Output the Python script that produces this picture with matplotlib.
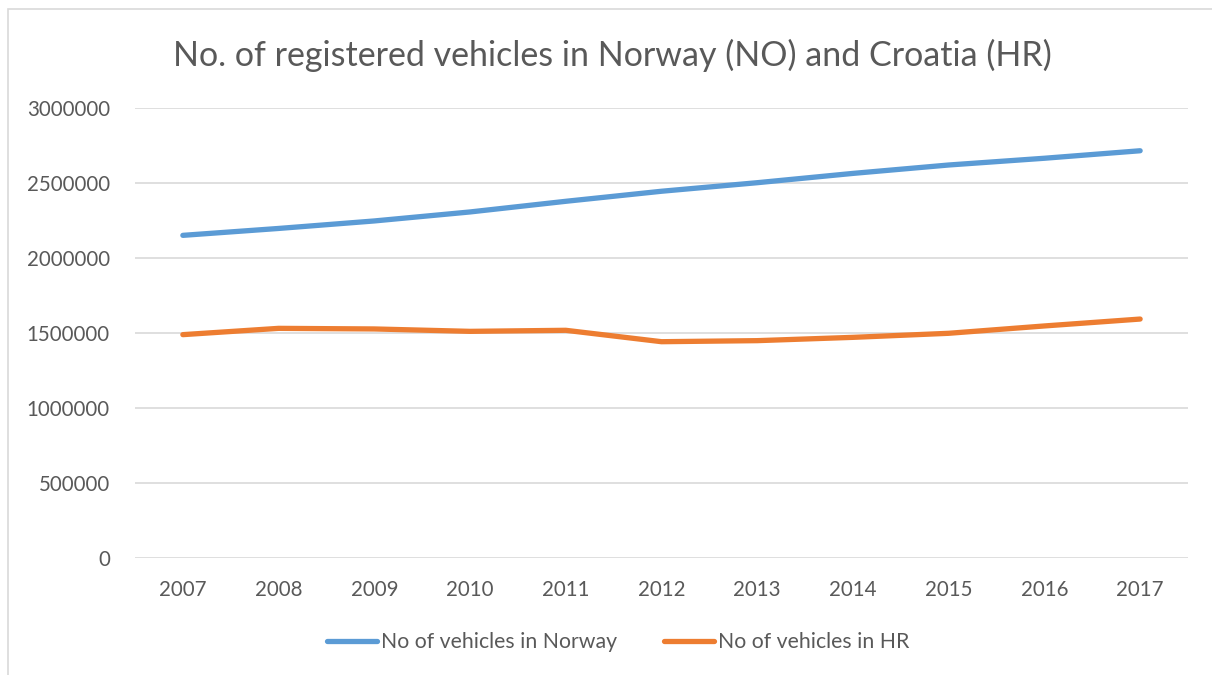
import matplotlib.pyplot as plt
from matplotlib.patches import Rectangle

# Registered vehicles
years = ['2007', '2008', '2009', '2010', '2011', '2012',
         '2013', '2014', '2015', '2016', '2017']
norway = [2151000, 2197000, 2247000, 2307000, 2378000, 2445000,
          2502000, 2564000, 2620000, 2665000, 2715000]
croatia = [1489000, 1531000, 1527000, 1511000, 1518000, 1442000,
           1449000, 1471000, 1498000, 1547000, 1593000]
yticks = [0, 500000, 1000000, 1500000, 2000000, 2500000, 3000000]

plt.rcParams['font.family'] = ['Lato', 'DejaVu Sans']
txt = '#595959'

fig = plt.figure(figsize=(12.12, 6.75), dpi=100)
ax = fig.add_axes([135/1212, 117/675, 1053/1212, 450/675])

x = range(len(years))
ax.plot(x, norway, color='#5B9BD5', lw=3.8, solid_capstyle='round',
        solid_joinstyle='round', label='No of vehicles in Norway')
ax.plot(x, croatia, color='#ED7D31', lw=3.8, solid_capstyle='round',
        solid_joinstyle='round', label='No of vehicles in HR')

ax.set_xlim(-0.5, len(years) - 0.5)
ax.set_ylim(0, 3000000)
ax.set_xticks(list(x))
ax.set_xticklabels(years)
ax.set_yticks(yticks)
ax.set_yticklabels([str(v) for v in yticks])
ax.tick_params(length=0, labelsize=14.8, colors=txt)
ax.tick_params(axis='x', pad=16)
ax.tick_params(axis='y', pad=18)
ax.grid(axis='y', color='#D9D9D9', lw=1.2)
ax.set_axisbelow(True)
for s in ax.spines.values():
    s.set_visible(False)

fig.text(0.505, 1 - 55/675, 'No. of registered vehicles in Norway (NO) and Croatia (HR)',
         ha='center', va='center', fontsize=24.5, color=txt)

fig.legend(loc='center', bbox_to_anchor=(0.510, 1 - 642/675), ncol=2, frameon=False,
           fontsize=15.3, labelcolor=txt, handlelength=2.35, handletextpad=0.2,
           columnspacing=2.2)

# outer chart frame
fig.patches.append(Rectangle((8/1212, -0.05), 1.1, 1 - 9/675 + 0.05,
                             transform=fig.transFigure, fill=False,
                             edgecolor='#D9D9D9', lw=1.2))

fig.savefig('out.png', dpi=100)
